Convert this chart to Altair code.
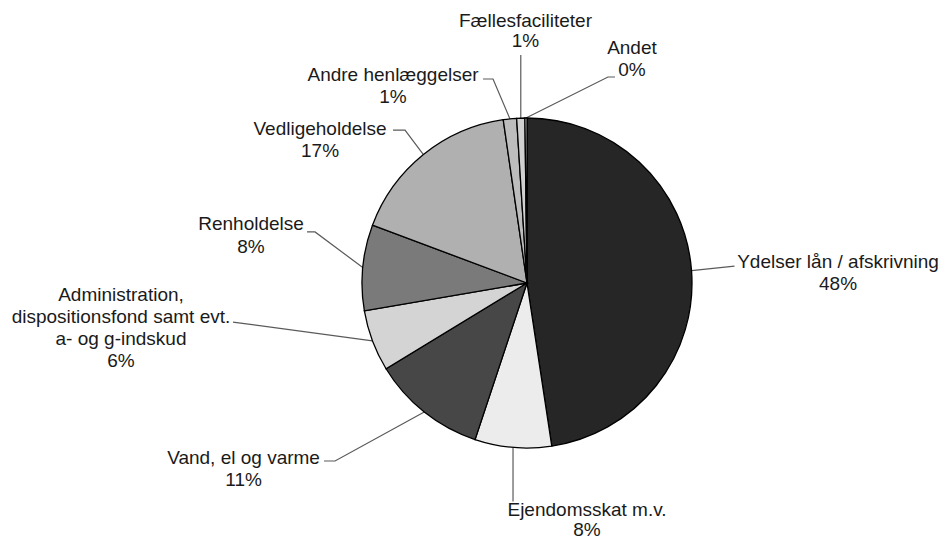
import math
import altair as alt
import pandas as pd

# ---------------- data ----------------
categories = [
    "Ydelser lån / afskrivning",
    "Ejendomsskat m.v.",
    "Vand, el og varme",
    "Administration, dispositionsfond samt evt. a- og g-indskud",
    "Renholdelse",
    "Vedligeholdelse",
    "Andre henlæggelser",
    "Fællesfaciliteter",
    "Andet",
]
shares = [47.6, 7.5, 11.2, 6.0, 8.4, 17.0, 1.3, 0.8, 0.2]
label_lines = [
    ["Ydelser lån / afskrivning"],
    ["Ejendomsskat m.v."],
    ["Vand, el og varme"],
    ["Administration,", "dispositionsfond samt evt.", "a- og g-indskud"],
    ["Renholdelse"],
    ["Vedligeholdelse"],
    ["Andre henlæggelser"],
    ["Fællesfaciliteter"],
    ["Andet"],
]

# ---------------- styling / layout ----------------
fills = ["#262626", "#ececec", "#474747", "#d4d4d4", "#7a7a7a",
         "#b0b0b0", "#bdbdbd", "#d0d0d0", "#e0e0e0"]
W, H = 931, 533            # drawing area (page minus the 8px margins)
CX, CY, R = 527, 283, 165  # pie centre / radius in page coordinates
# label first-line centre, relative to the slice's edge anchor
label_offsets = [(146.5, -8.6), (74, 63.0), (-180.7, 45.9), (-251.5, -45.8),
                 (-111.7, -43.5), (-103.4, -25.5), (-116.9, -43.9), (4.7, -97.1),
                 (106, -70)]
# leader line bend points, relative to the slice's edge anchor
leader_bends = [[(43, -4.4)], [(0, 54)], [(-89.2, 48.9), (-100.2, 48.9)],
                [(-139.5, -18.8)], [(-47.7, -35.5), (-55.7, -35.5)],
                [(-18.4, -24.5), (-30.4, -24.5)], [(-16.9, -39.9), (-26.9, -39.9)],
                [(0, -63)], [(82, -41), (89, -41)]]
line_gap = [22, 20, 22, 22, 23, 22, 22, 20, 22]

# ---------------- tables ----------------
total = sum(shares)
pie_df = pd.DataFrame({"name": categories, "share": shares, "idx": list(range(len(categories)))})

text_rows, lead_rows = [], []
cum = 0.0
for i, (name, v) in enumerate(zip(categories, shares)):
    mid = (cum + v / 2) / total * 2 * math.pi
    cum += v
    ax = CX + R * math.sin(mid)
    ay = CY - R * math.cos(mid)
    lx, ly = ax + label_offsets[i][0], ay + label_offsets[i][1]
    lines = label_lines[i] + [f"{math.floor(v + 0.5)}%"]
    for j, t in enumerate(lines):
        text_rows.append({"x": lx, "y": ly + j * line_gap[i], "t": t})
    pts = [(ax, ay)] + [(ax + dx, ay + dy) for dx, dy in leader_bends[i]]
    for k, (px, py) in enumerate(pts):
        lead_rows.append({"key": name, "ord": k, "x": px, "y": py})

text_df = pd.DataFrame(text_rows)
lead_df = pd.DataFrame(lead_rows)

xs = alt.Scale(domain=[8, 8 + W], nice=False, zero=False)
ys = alt.Scale(domain=[8, 8 + H], nice=False, zero=False, reverse=True)

pie = alt.Chart(pie_df).mark_arc(outerRadius=R, stroke="#000000", strokeWidth=1.3).encode(
    theta=alt.Theta("share:Q", stack=True),
    color=alt.Color("name:N", scale=alt.Scale(domain=categories, range=fills), legend=None),
    order=alt.Order("idx:Q", sort="ascending"),
    x=alt.value(CX - 8),
    y=alt.value(CY - 8),
)

leaders = alt.Chart(lead_df).mark_line(color="#5a5a5a", strokeWidth=1.2).encode(
    x=alt.X("x:Q", scale=xs, axis=None),
    y=alt.Y("y:Q", scale=ys, axis=None),
    detail="key:N",
    order="ord:Q",
)

labels = alt.Chart(text_df).mark_text(
    font="Liberation Sans", fontSize=19, color="#1a1a1a", align="center", baseline="middle"
).encode(
    x=alt.X("x:Q", scale=xs, axis=None),
    y=alt.Y("y:Q", scale=ys, axis=None),
    text="t:N",
)

chart = alt.layer(leaders, pie, labels).properties(
    width=W, height=H, padding=0, autosize=alt.AutoSizeParams(type="none"),
    background="white",
).configure_view(stroke=None)

chart.save("out.html", embed_options={"renderer": "svg", "actions": False})
